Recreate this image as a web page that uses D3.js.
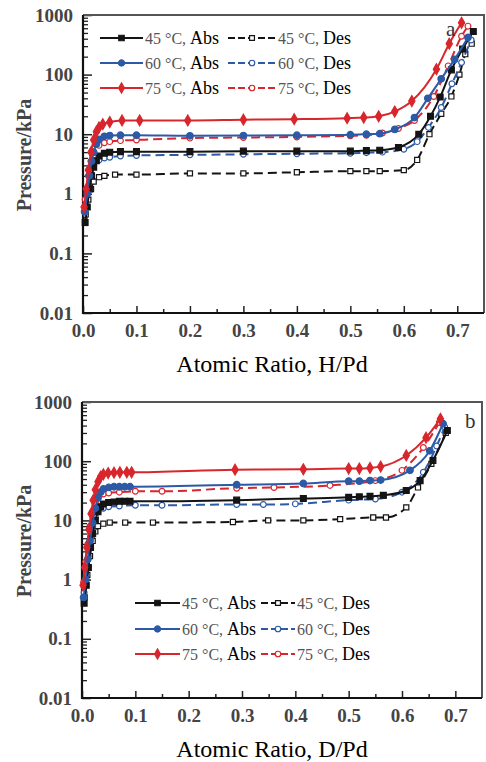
<!DOCTYPE html>
<html><head><meta charset="utf-8">
<script src="https://cdn.jsdelivr.net/npm/d3@7"></script>
<style>
body{margin:0;background:#fff}
svg{display:block}
text{font-family:"Liberation Serif","Times New Roman",serif}
</style>
</head><body>
<svg id="c" width="486" height="762"></svg>
<script>
// ---------- data ----------
const xTickValues = [0, 0.1, 0.2, 0.3, 0.4, 0.5, 0.6, 0.7];
const xTickLabels = ["0.0", "0.1", "0.2", "0.3", "0.4", "0.5", "0.6", "0.7"];
const yTickValues = [0.01, 0.1, 1, 10, 100, 1000];
const yTickLabels = ["0.01", "0.1", "1", "10", "100", "1000"];
const seriesLabels = ["45 °C, ", "60 °C, ", "75 °C, "];
const modeLabels = ["Abs", "Des"];
const xTitles = ["Atomic Ratio, H/Pd", "Atomic Ratio, D/Pd"];
const yTitle = "Pressure/kPa";
const panelLetters = ["a", "b"];

// panel a : H/Pd
const h45Abs = [[0.004,0.33],[0.008,0.6],[0.012,1.2],[0.016,2.0],[0.02,2.8],[0.025,3.6],[0.03,4.3],[0.04,4.8],[0.05,5.0],[0.07,5.1],[0.1,5.1],[0.2,5.1],[0.3,5.2],[0.4,5.2],[0.5,5.2],[0.53,5.3],[0.555,5.4],[0.59,6.0],[0.628,10],[0.65,20],[0.668,42],[0.689,120],[0.71,270],[0.73,530]];
const h45Des = [[0.005,0.45],[0.01,0.8],[0.015,1.2],[0.02,1.6],[0.03,1.9],[0.04,2.0],[0.06,2.1],[0.1,2.1],[0.2,2.2],[0.3,2.2],[0.4,2.3],[0.5,2.4],[0.53,2.4],[0.555,2.4],[0.6,2.5],[0.625,3.7],[0.648,10],[0.67,22],[0.689,43],[0.704,100],[0.715,220],[0.727,330]];
const h60Abs = [[0.003,0.5],[0.008,1.0],[0.012,2.0],[0.016,3.5],[0.02,5.0],[0.025,6.8],[0.03,8.2],[0.04,9.2],[0.05,9.5],[0.07,9.6],[0.1,9.6],[0.2,9.4],[0.3,9.5],[0.4,9.6],[0.5,9.8],[0.53,10],[0.555,10.2],[0.583,12],[0.62,19],[0.645,40],[0.67,85],[0.695,180],[0.72,420]];
const h60Des = [[0.004,0.5],[0.01,1.2],[0.015,2.2],[0.02,3.0],[0.03,3.7],[0.04,4.0],[0.05,4.1],[0.07,4.3],[0.1,4.4],[0.2,4.5],[0.3,4.6],[0.4,4.7],[0.5,4.8],[0.53,4.9],[0.56,5.0],[0.6,5.6],[0.625,7.5],[0.646,13],[0.67,28],[0.69,70],[0.708,160],[0.726,380]];
const h75Abs = [[0.002,0.6],[0.006,1.2],[0.01,2.5],[0.015,5],[0.02,8],[0.025,11],[0.03,13],[0.037,14.7],[0.05,16],[0.073,17],[0.106,17],[0.196,17],[0.3,17.5],[0.395,17.9],[0.494,18.6],[0.525,19],[0.553,20],[0.583,24],[0.615,36],[0.661,123],[0.685,330],[0.708,740]];
const h75Des = [[0.004,0.8],[0.01,2],[0.015,3.5],[0.02,5],[0.03,6.5],[0.04,7.2],[0.05,7.5],[0.07,7.8],[0.1,8.0],[0.2,8.6],[0.3,8.8],[0.4,9.0],[0.5,9.4],[0.53,9.6],[0.56,10.5],[0.59,12.5],[0.62,17],[0.656,43],[0.683,140],[0.708,440],[0.72,650]];

// panel b : D/Pd
const d45Abs = [[0.004,0.4],[0.008,0.8],[0.012,1.6],[0.016,3.5],[0.02,6],[0.025,10],[0.03,14],[0.035,17],[0.04,19],[0.05,20],[0.06,20.5],[0.07,21],[0.08,21],[0.09,21],[0.29,22],[0.415,23.5],[0.5,24.5],[0.52,25],[0.54,25.5],[0.565,26.5],[0.608,32],[0.634,47],[0.658,103],[0.685,330]];
const d45Des = [[0.005,0.5],[0.01,1.2],[0.015,2.5],[0.02,4.5],[0.025,6.5],[0.03,8],[0.04,8.8],[0.052,9.2],[0.081,9.2],[0.133,9.2],[0.283,9.4],[0.349,10],[0.415,10],[0.484,10.5],[0.546,11.2],[0.57,11.2],[0.608,16.6],[0.63,36],[0.655,90],[0.682,300]];
const d60Abs = [[0.003,0.5],[0.007,1],[0.011,2.2],[0.015,4.5],[0.02,9],[0.025,16],[0.03,24],[0.035,30],[0.04,34],[0.05,36],[0.06,37],[0.07,37],[0.08,37],[0.09,37],[0.29,40],[0.415,42],[0.5,46],[0.52,46],[0.54,47],[0.56,48],[0.615,70],[0.652,150],[0.677,430]];
const d60Des = [[0.004,0.6],[0.008,1.2],[0.012,2.5],[0.016,5],[0.02,8],[0.025,11.5],[0.03,14],[0.04,16],[0.05,17],[0.07,17.5],[0.1,18],[0.15,18],[0.29,18.6],[0.34,18.5],[0.4,19],[0.5,22],[0.55,23],[0.6,30],[0.64,65],[0.665,180],[0.68,380]];
const d75Abs = [[0.002,0.8],[0.005,1.6],[0.009,3.5],[0.013,7],[0.017,13],[0.021,22],[0.025,33],[0.03,45],[0.035,55],[0.04,60],[0.049,63],[0.06,64],[0.071,65],[0.084,65],[0.093,65],[0.287,72],[0.415,73],[0.5,75],[0.52,75],[0.54,77],[0.56,81],[0.608,125],[0.645,250],[0.672,520]];
const d75Des = [[0.003,0.9],[0.007,2],[0.011,4],[0.015,8],[0.02,14],[0.025,20],[0.03,25],[0.04,28],[0.05,29],[0.07,30],[0.1,31],[0.15,31],[0.29,35],[0.36,36],[0.465,39],[0.55,47],[0.6,70],[0.64,170],[0.67,450]];

// ---------- styling ----------
const colors = ["#141414", "#2c5aa6", "#d8262c"];
const absSymbols = [d3.symbolSquare, d3.symbolCircle, d3.symbolDiamond];
const desSymbols = [d3.symbolSquare, d3.symbolCircle, d3.symbolCircle];

const panels = [
  {l:83, r:484, t:15, b:313, abs:[h45Abs,h60Abs,h75Abs], des:[h45Des,h60Des,h75Des],
   leg:{rows:[38,63,88], a0:100, a1:143, at:145, d0:228, d1:276, dt:278}, letter:[446,36], xt:372},
  {l:82, r:482, t:402, b:698, abs:[d45Abs,d60Abs,d75Abs], des:[d45Des,d60Des,d75Des],
   leg:{rows:[603,629,654], a0:135, a1:180, at:182, d0:261, d1:295, dt:297}, letter:[465,428], xt:757}
];

const svg = d3.select("#c");

panels.forEach((p, pi) => {
  const x = d3.scaleLinear().domain([0, 0.75]).range([p.l, p.r]);
  const y = d3.scaleLog().domain([0.01, 1000]).range([p.b, p.t]);
  const g = svg.append("g");

  // minor x ticks
  const minorX = [0.05,0.15,0.25,0.35,0.45,0.55,0.65];
  g.append("g").attr("transform", `translate(0,${p.b})`)
    .call(d3.axisBottom(x).tickValues(minorX).tickSize(-4).tickFormat(""))
    .call(s => s.select(".domain").remove())
    .selectAll("line").attr("stroke", "#222").attr("stroke-width", 1.5);
  // major x ticks
  const xa = g.append("g").attr("transform", `translate(0,${p.b})`)
    .call(d3.axisBottom(x).tickValues(xTickValues).tickSize(-7).tickPadding(11)
      .tickFormat((d, i) => xTickLabels[i]));
  xa.select(".domain").remove();
  xa.selectAll("line").attr("stroke", "#222").attr("stroke-width", 1.5);
  xa.selectAll("text").attr("font-size", 19).attr("fill", "#444")
    .attr("font-family", "Liberation Serif").attr("font-weight", "bold");

  // minor y ticks
  const minorY = [];
  [0.01,0.1,1,10,100].forEach(dec => { for (let k = 2; k <= 9; k++) minorY.push(dec * k); });
  g.append("g").attr("transform", `translate(${p.l},0)`)
    .call(d3.axisLeft(y).tickValues(minorY).tickSize(-5).tickFormat(""))
    .call(s => s.select(".domain").remove())
    .selectAll("line").attr("stroke", "#222").attr("stroke-width", 1.3);
  const ya = g.append("g").attr("transform", `translate(${p.l},0)`)
    .call(d3.axisLeft(y).tickValues(yTickValues).tickSize(-9).tickPadding(10)
      .tickFormat((d, i) => yTickLabels[i]));
  ya.select(".domain").remove();
  ya.selectAll("line").attr("stroke", "#222").attr("stroke-width", 1.5);
  ya.selectAll("text").attr("font-size", 19).attr("fill", "#444")
    .attr("font-family", "Liberation Serif").attr("font-weight", "bold");

  // frame
  g.append("path").attr("d", `M${p.l},${p.t}H${p.r}V${p.b}`).attr("fill", "none")
    .attr("stroke", "#555").attr("stroke-width", 2);
  g.append("path").attr("d", `M${p.l},${p.t}V${p.b}H${p.r}`).attr("fill", "none")
    .attr("stroke", "#111").attr("stroke-width", 2.2);

  const line = d3.line().x(d => x(d[0])).y(d => y(d[1])).curve(d3.curveMonotoneX);

  const drawSeries = (data, i, isAbs) => {
    const sg = g.append("g");
    sg.append("path").datum(data).attr("d", line).attr("fill", "none")
      .attr("stroke", colors[i]).attr("stroke-width", 2)
      .attr("stroke-dasharray", isAbs ? null : "9,5");
    const sym = d3.symbol().type(isAbs ? absSymbols[i] : desSymbols[i]).size(isAbs ? 34 : 26);
    sg.selectAll("path.m").data(data).join("path").attr("class", "m")
      .attr("d", sym)
      .attr("transform", d => `translate(${x(d[0])},${y(d[1])})`)
      .attr("fill", isAbs ? colors[i] : "#fff")
      .attr("stroke", colors[i]).attr("stroke-width", 1.2);
  };
  p.des.forEach((d, i) => drawSeries(d, i, false));
  p.abs.forEach((d, i) => drawSeries(d, i, true));

  // legend
  const L = p.leg;
  L.rows.forEach((ry, i) => {
    [[L.a0, L.a1, L.at, true], [L.d0, L.d1, L.dt, false]].forEach(([x0, x1, tx, isAbs], k) => {
      g.append("line").attr("x1", x0).attr("x2", x1).attr("y1", ry).attr("y2", ry)
        .attr("stroke", colors[i]).attr("stroke-width", 2.2)
        .attr("stroke-dasharray", isAbs ? null : "7,3");
      g.append("path")
        .attr("d", d3.symbol().type(isAbs ? absSymbols[i] : desSymbols[i]).size(isAbs ? 30 : 24))
        .attr("transform", `translate(${(x0 + x1) / 2},${ry})`)
        .attr("fill", isAbs ? colors[i] : "#fff").attr("stroke", colors[i]).attr("stroke-width", 1.2);
      const t = g.append("text").attr("x", tx).attr("y", ry + 6).attr("font-size", 18);
      t.append("tspan").attr("fill", "#555").attr("font-size", 16).text(seriesLabels[i]);
      t.append("tspan").attr("fill", "#000").text(modeLabels[k]);
    });
  });

  // panel letter
  g.append("text").attr("x", p.letter[0]).attr("y", p.letter[1]).attr("font-size", 21)
    .attr("fill", "#333").text(panelLetters[pi]);

  // axis titles
  g.append("text").attr("x", 272).attr("y", p.xt).attr("text-anchor", "middle")
    .attr("font-size", 24).attr("fill", "#000").text(xTitles[pi]);
  const cy = (p.t + p.b) / 2 - 9;
  g.append("text").attr("transform", `translate(31,${cy}) rotate(-90)`)
    .attr("text-anchor", "middle").attr("font-size", 20).attr("fill", "#444")
    .attr("font-weight", "bold").text(yTitle);
});
</script>
</body></html>
